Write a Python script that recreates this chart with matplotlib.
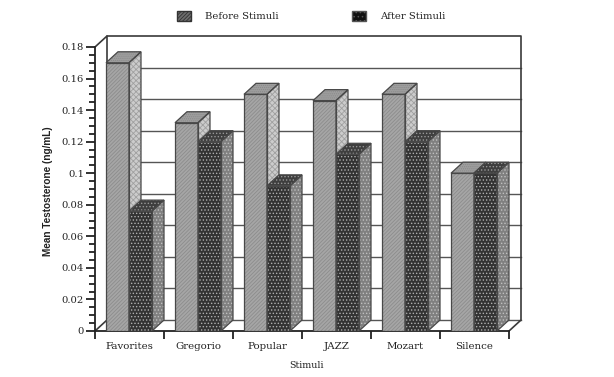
import matplotlib
matplotlib.use("Agg")
import matplotlib.pyplot as plt
from matplotlib.patches import Polygon, Patch
from matplotlib.ticker import FixedLocator, NullFormatter

categories = ["Favorites", "Gregorio", "Popular", "JAZZ", "Mozart", "Silence"]
before = [0.17, 0.132, 0.15, 0.146, 0.15, 0.10]
after = [0.076, 0.12, 0.092, 0.112, 0.12, 0.10]
y_ticks = [0, 0.02, 0.04, 0.06, 0.08, 0.1, 0.12, 0.14, 0.16, 0.18]
y_labels = ["0", "0.02", "0.04", "0.06", "0.08", "0.1", "0.12", "0.14", "0.16", "0.18"]
y_minor = [0.005, 0.01, 0.015, 0.025, 0.03, 0.035, 0.045, 0.05, 0.055, 0.065, 0.07, 0.075,
           0.085, 0.09, 0.095, 0.105, 0.11, 0.115, 0.125, 0.13, 0.135, 0.145, 0.15, 0.155,
           0.165, 0.17, 0.175]

W, H = 614, 377
L, R, B, T = 95, 524, 331, 34
PX_Y = 0.18 / 284
PX_X = 1 / 69
DX, DY = 12 * PX_X, 11 * PX_Y
SERIF = "DejaVu Serif"

plt.rcParams["hatch.linewidth"] = 0.6
fig = plt.figure(figsize=(W / 100, H / 100), dpi=100)
ax = fig.add_axes([L / W, 1 - B / H, (R - L) / W, (B - T) / H])
ax.set_xlim(0, (R - L) * PX_X)
ax.set_ylim(0, (B - T) * PX_Y)
ax.patch.set_alpha(0)

for s in ("top", "right"):
    ax.spines[s].set_visible(False)
for s in ("left", "bottom"):
    ax.spines[s].set_linewidth(1.3)
    ax.spines[s].set_color("#222222")
ax.spines["left"].set_bounds(0, 0.18)
ax.spines["bottom"].set_bounds(0, len(categories))

n = len(categories)
for v in y_ticks[1:-1]:
    ax.plot([DX, n + DX], [v + DY, v + DY], color="#555555", lw=1.0, zorder=1)
wall = dict(color="#3a3a3a", lw=1.2, zorder=1.2, solid_capstyle="round")
ax.plot([0, DX, DX, 0], [0.18, 0.18 + DY, DY, 0], **wall)
ax.plot([DX, n + DX, n + DX, n], [0.18 + DY, 0.18 + DY, DY, 0], **wall)
ax.plot([DX, n + DX], [DY, DY], color="#555555", lw=1.0, zorder=1)


def bar3d(x0, w, v, front, top, side, z):
    faces = [
        ([(x0 + w, 0), (x0 + w + DX, DY), (x0 + w + DX, v + DY), (x0 + w, v)], side),
        ([(x0, v), (x0 + DX, v + DY), (x0 + w + DX, v + DY), (x0 + w, v)], top),
        ([(x0, 0), (x0 + w, 0), (x0 + w, v), (x0, v)], front),
    ]
    for pts, st in faces:
        ax.add_patch(Polygon(pts, closed=True, facecolor=st[0], edgecolor=st[1],
                             hatch=st[2], lw=0, zorder=z))
        ax.add_patch(Polygon(pts, closed=True, fill=False, edgecolor="#484848",
                             lw=0.9, zorder=z + 0.1))


BF = ("#a6a6a6", "#8c8c8c", "/////////")
BT = ("#9e9e9e", "#8a8a8a", "........")
BS = ("#cccccc", "#a0a0a0", "xxxxxx")
AF = ("#333333", "#b0b0b0", ".....")
AT = ("#3e3e3e", "#989898", ".....")
AS = ("#808080", "#c0c0c0", ".....")
bw = 23 * PX_X
off = 11 * PX_X
for i in range(n):
    bar3d(i + off, bw, before[i], BF, BT, BS, 3 + i)
    bar3d(i + off + bw, bw, after[i], AF, AT, AS, 3.4 + i)

ax.yaxis.set_major_locator(FixedLocator(y_ticks))
ax.set_yticklabels(y_labels, family=SERIF, fontsize=7.2, color="#222222")
ax.yaxis.set_minor_locator(FixedLocator(y_minor))
ax.yaxis.set_minor_formatter(NullFormatter())
ax.tick_params(axis="y", which="major", length=6.5, width=1.3, pad=1.5, color="#222222")
ax.tick_params(axis="y", which="minor", length=4, width=1.3, color="#222222")
ax.set_xticks(range(n + 1))
ax.set_xticklabels([""] * (n + 1))
ax.tick_params(axis="x", which="major", length=6, width=1.3, color="#222222")
for i, c in enumerate(categories):
    ax.annotate(c, (i + 0.5, 0), xytext=(0, -11.5), textcoords="offset points",
                ha="center", va="center", family=SERIF, fontsize=7.4, color="#222222")

fig.text(307 / W, 1 - 365 / H, "Stimuli", ha="center", va="center",
         family=SERIF, fontsize=6.8, color="#222222")
fig.text(48 / W, 1 - 191 / H, "Mean Testosterone (ng/mL)", rotation=90, ha="center",
         va="center", family="Liberation Sans", fontweight="bold", fontsize=7.2, color="#222222")

handles = [Patch(facecolor="#6e6e6e", edgecolor="#333333", hatch="/////////", lw=1, label="Before Stimuli"),
           Patch(facecolor="#111111", edgecolor="#555555", hatch="....", lw=1, label="After Stimuli")]
fig.legend(handles=handles, loc="center left", bbox_to_anchor=(168 / W, 1 - 16 / H), ncol=2,
           frameon=False, prop={"family": SERIF, "size": 7.2}, handlelength=1.4,
           handleheight=1.3, handletextpad=1.4, columnspacing=7.3, labelcolor="#222222")

fig.savefig("out.png", dpi=100)
